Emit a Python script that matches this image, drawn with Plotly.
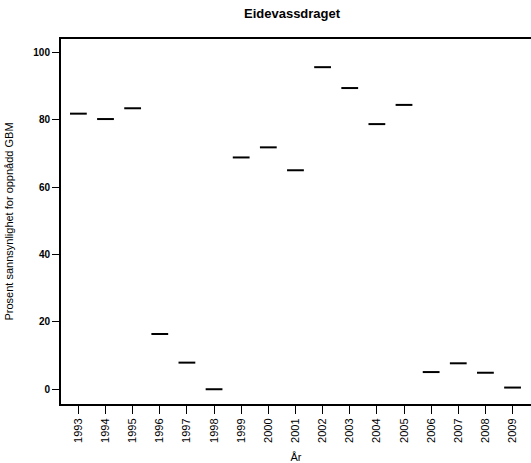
import plotly.graph_objects as go

years = list(range(1993, 2010))
prosent = [81.8, 80.2, 83.4, 16.4, 7.9, 0.0, 68.8, 71.8, 65.0,
           95.6, 89.4, 78.7, 84.4, 5.1, 7.7, 4.9, 0.5]
y_ticks = [0, 20, 40, 60, 80, 100]

fig = go.Figure()
fig.add_trace(go.Scatter(
    x=years,
    y=prosent,
    mode="markers",
    marker=dict(symbol="line-ew", size=12, line=dict(color="black", width=2)),
    showlegend=False,
))

fig.update_layout(
    width=531,
    height=463,
    margin=dict(l=61, r=0, t=39, b=59),
    paper_bgcolor="white",
    plot_bgcolor="white",
    font=dict(family="Liberation Sans, Arial", color="black"),
    title=dict(
        text="<b>Eidevassdraget</b>",
        x=0.55, xanchor="center", y=0.970, yanchor="middle",
        font=dict(size=13),
    ),
    xaxis=dict(
        range=[1992.36, 2009.68],
        tickmode="array",
        tickvals=years,
        ticktext=[str(y) for y in years],
        tickangle=-90,
        tickfont=dict(size=11),
        ticks="outside", ticklen=8, tickwidth=1, tickcolor="black",
        showline=True, linewidth=2, linecolor="black", mirror=True,
        showgrid=False, zeroline=False,
        title=dict(text="År", font=dict(size=11), standoff=12),
    ),
    yaxis=dict(
        range=[-4.38, 103.96],
        tickmode="array",
        tickvals=y_ticks,
        ticktext=[f"<b>{v}</b>" for v in y_ticks],
        tickfont=dict(size=10),
        ticks="outside", ticklen=7, tickwidth=1, tickcolor="black",
        showline=True, linewidth=2, linecolor="black",
        showgrid=False, zeroline=False,
        title=dict(text="Prosent sannsynlighet for oppnådd GBM",
                   font=dict(size=11), standoff=17),
    ),
)

# page has default 8px body margin; drop it so the figure fills the window
fig.write_html("out.html", config={"displayModeBar": False},
               post_script="document.body.style.margin='0';")
